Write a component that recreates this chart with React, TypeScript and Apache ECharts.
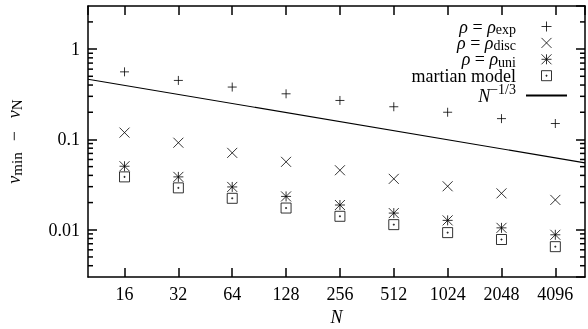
import { useEffect, useRef } from 'react';
import * as echarts from 'echarts';

// ---- data ----
const sizesN = [16, 32, 64, 128, 256, 512, 1024, 2048, 4096];
const rhoExp = [0.56, 0.45, 0.38, 0.32, 0.27, 0.23, 0.2, 0.17, 0.15];
const rhoDisc = [0.119, 0.092, 0.071, 0.0565, 0.0456, 0.0366, 0.0303, 0.0253, 0.0214];
const rhoUni = [0.0505, 0.0385, 0.0298, 0.0234, 0.0188, 0.0153, 0.0127, 0.0105, 0.0088];
const martian = [0.0385, 0.0291, 0.0223, 0.0174, 0.0141, 0.0114, 0.0093, 0.0078, 0.0065];
const powerLawN = [10, 6000];
const powerLawV = [0.464, 0.055];
const yMinorTicks = [
  0.004, 0.005, 0.006, 0.007, 0.008, 0.009,
  0.02, 0.03, 0.04, 0.05, 0.06, 0.07, 0.08, 0.09,
  0.2, 0.3, 0.4, 0.5, 0.6, 0.7, 0.8, 0.9,
  2,
];
const xRange = [10, 6000];
const yRange = [0.003, 3];

const FONT = 'Liberation Serif';

const legendText: Record<string, string> = {
  exp: '{i|ρ}{r| = }{i|ρ}{s|exp}{g| }',
  disc: '{i|ρ}{r| = }{i|ρ}{s|disc}{g| }',
  uni: '{i|ρ}{r| = }{i|ρ}{s|uni}{g| }',
  martian: '{r|martian model}{g| }',
  power: '{i|N}{p|−1/3}{g| }',
};

const L = 17;
const rich = {
  i: { fontFamily: FONT, fontStyle: 'italic', fontSize: 18, lineHeight: L, color: '#000' },
  r: { fontFamily: FONT, fontSize: 18, lineHeight: L, color: '#000' },
  s: { fontFamily: FONT, fontSize: 14, lineHeight: L, height: 11, verticalAlign: 'bottom', color: '#000' },
  p: { fontFamily: FONT, fontSize: 14, lineHeight: L, height: 4, verticalAlign: 'top', color: '#000' },
  g: { fontFamily: FONT, fontSize: 10, width: 5, lineHeight: L },
};

const pairs = (ys: number[]) => sizesN.map((n, i) => [n, ys[i]]);

const markerStyle = { color: 'transparent', borderColor: '#000', borderWidth: 1 };

export default function App() {
  const ref = useRef<HTMLDivElement>(null);
  useEffect(() => {
    const chart = echarts.init(ref.current!, null, { renderer: 'svg' });
    const axisLine = { show: true, lineStyle: { color: '#000', width: 1.5 } };
    const tick = { inside: true, length: 9, lineStyle: { color: '#000', width: 1.5 } };
    const option: any = {
      animation: false,
      grid: { left: 88, right: 3, top: 6, bottom: 52, containLabel: false, outerBoundsMode: 'none' },
      xAxis: [
        {
          type: 'log',
          logBase: 2,
          min: xRange[0],
          max: xRange[1],
          position: 'bottom',
          axisLine,
          axisTick: tick,
          splitLine: { show: false },
          axisLabel: {
            fontFamily: FONT,
            fontSize: 18,
            color: '#000',
            margin: 8,
            showMinLabel: false,
            showMaxLabel: false,
            formatter: (v: number) => String(Math.round(v)),
          },
          name: 'N',
          nameLocation: 'middle',
          nameGap: 31,
          nameTextStyle: { fontFamily: FONT, fontStyle: 'italic', fontSize: 18, color: '#000' },
        },
        {
          type: 'log',
          logBase: 2,
          min: xRange[0],
          max: xRange[1],
          position: 'top',
          axisLine,
          axisTick: tick,
          splitLine: { show: false },
          axisLabel: { show: false },
        },
      ],
      yAxis: [
        {
          type: 'log',
          logBase: 10,
          min: yRange[0],
          max: yRange[1],
          position: 'left',
          axisLine,
          axisTick: tick,
          splitLine: { show: false },
          axisLabel: {
            fontFamily: FONT,
            fontSize: 18,
            color: '#000',
            margin: 8,
            showMinLabel: false,
            showMaxLabel: false,
            formatter: (v: number) => String(Number(v.toPrecision(2))),
          },
          name: '{v|v}{s|min}{m|−}{v|v}{s|N}',
          nameLocation: 'middle',
          nameRotate: 90,
          nameGap: 66,
          nameTextStyle: {
            rich: {
              v: { fontFamily: FONT, fontStyle: 'italic', fontSize: 18, lineHeight: L, color: '#000' },
              m: { fontFamily: FONT, fontSize: 18, lineHeight: L, padding: [0, 13, 0, 11], color: '#000' },
              s: { fontFamily: FONT, fontSize: 15, lineHeight: L, height: 11, verticalAlign: 'bottom', color: '#000' },
            },
          },
        },
        {
          type: 'log',
          logBase: 10,
          min: yRange[0],
          max: yRange[1],
          position: 'right',
          axisLine,
          axisTick: tick,
          splitLine: { show: false },
          axisLabel: { show: false },
        },
      ],
      legend: {
        orient: 'vertical',
        right: 20,
        top: 17.5,
        align: 'right',
        itemWidth: 41,
        itemHeight: 10,
        itemGap: -2.6,
        selectedMode: false,
        padding: 0,
        itemStyle: { borderWidth: 1 },
        textStyle: { fontFamily: FONT, fontSize: 18, color: '#000', rich },
        formatter: (name: string) => legendText[name],
        data: [
          'exp',
          'disc',
          'uni',
          'martian',
          { name: 'power', itemStyle: { color: 'transparent', borderColor: 'transparent', borderWidth: 0 } },
        ],
      },
      series: [
        {
          name: 'exp',
          type: 'scatter',
          data: pairs(rhoExp),
          symbol: 'path://M4,0L4,8M0,4L8,4',
          symbolSize: 9,
          itemStyle: markerStyle,
        },
        {
          name: 'disc',
          type: 'scatter',
          data: pairs(rhoDisc),
          symbol: 'path://M0,0L8,8M8,0L0,8',
          symbolSize: 10,
          itemStyle: markerStyle,
        },
        {
          name: 'uni',
          type: 'scatter',
          data: pairs(rhoUni),
          symbol: 'path://M4,0L4,8M0,4L8,4M0,0L8,8M8,0L0,8',
          symbolSize: 10,
          itemStyle: markerStyle,
        },
        {
          name: 'martian',
          type: 'scatter',
          data: pairs(martian),
          symbol: 'path://M0,0L8,0L8,8L0,8ZM3.6,3.6L4.4,3.6L4.4,4.4L3.6,4.4Z',
          symbolSize: 10,
          itemStyle: markerStyle,
        },
        {
          name: 'power',
          type: 'line',
          data: powerLawN.map((n, i) => [n, powerLawV[i]]),
          showSymbol: false,
          symbol: 'none',
          lineStyle: { color: '#000', width: 1.2 },
          itemStyle: { color: 'transparent', borderColor: 'transparent' },
        },
        {
          name: 'minorTicks',
          type: 'custom',
          data: yMinorTicks.map((v) => [xRange[0], v]),
          renderItem: (_p: any, api: any) => {
            const v = api.value(1);
            const l = api.coord([xRange[0], v]);
            const r = api.coord([xRange[1], v]);
            const st = { stroke: '#000', lineWidth: 1.5 };
            return {
              type: 'group',
              children: [
                { type: 'line', shape: { x1: l[0], y1: l[1], x2: l[0] + 5, y2: l[1] }, style: st },
                { type: 'line', shape: { x1: r[0] - 5, y1: r[1], x2: r[0], y2: r[1] }, style: st },
              ],
            };
          },
        },
      ],
    };
    chart.setOption(option);
    return () => chart.dispose();
  }, []);
  return <div ref={ref} style={{ position: 'fixed', left: 0, top: 0, width: 588, height: 329 }} />;
}
